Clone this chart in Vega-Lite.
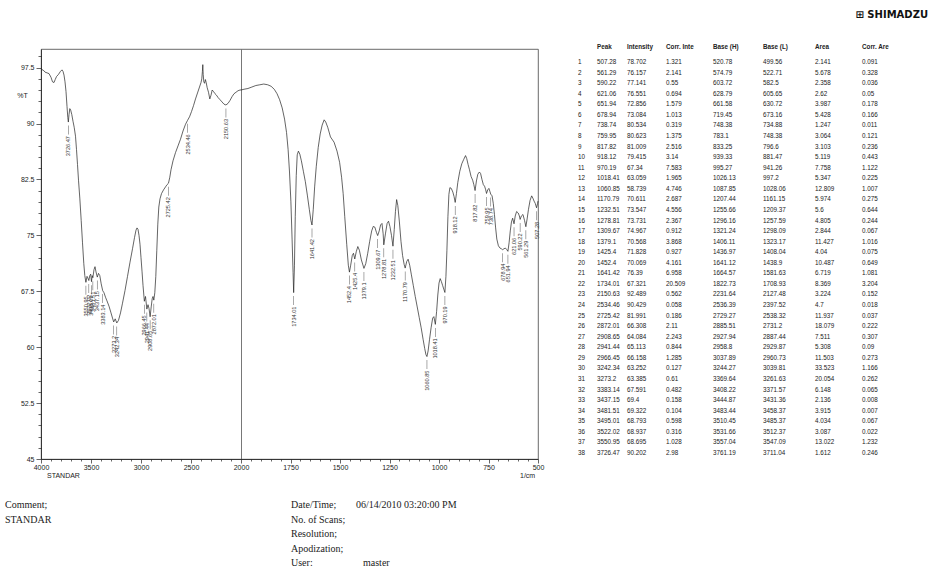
{
  "$schema": "https://vega.github.io/schema/vega-lite/v6.json",
  "width": 497,
  "height": 410,
  "autosize": {"type": "none"},
  "padding": {"left": 41, "top": 49, "right": 392, "bottom": 113},
  "background": "white",
  "config": {
    "view": {"stroke": "#444", "strokeWidth": 0.8},
    "axis": {"domainColor": "#222", "domainWidth": 0.8, "tickColor": "#222", "tickWidth": 0.7, "labelFont": "Liberation Sans", "labelFontSize": 7, "labelColor": "#222", "grid": false}
  },
  "datasets": {
    "spec": [
      {"w":4000,"t":97.2},{"w":3980,"t":97.2},{"w":3960,"t":96.9},{"w":3940,"t":96.8},{"w":3920,"t":96.7},{"w":3900,"t":96.2},{"w":3885,"t":95.6},{"w":3870,"t":95.5},{"w":3858,"t":95.9},{"w":3845,"t":96.3},{"w":3825,"t":96.6},{"w":3805,"t":97.0},{"w":3790,"t":97.2},{"w":3780,"t":97.0},{"w":3770,"t":96.5},{"w":3760,"t":95.6},{"w":3750,"t":94.3},{"w":3740,"t":92.3},{"w":3732,"t":90.8},{"w":3726.47,"t":90.2},{"w":3720,"t":91.2},{"w":3712,"t":92.0},{"w":3703,"t":91.8},{"w":3692,"t":91.2},{"w":3680,"t":90.3},{"w":3668,"t":89.5},{"w":3655,"t":88.3},{"w":3645,"t":86.5},{"w":3635,"t":84.5},{"w":3625,"t":82.4},{"w":3612,"t":80.0},{"w":3598,"t":77.0},{"w":3585,"t":74.0},{"w":3572,"t":71.2},{"w":3562,"t":69.6},{"w":3550.95,"t":68.7},{"w":3540,"t":69.5},{"w":3532,"t":69.3},{"w":3522.02,"t":68.94},{"w":3512,"t":69.6},{"w":3503,"t":69.8},{"w":3495.01,"t":68.79},{"w":3488,"t":69.6},{"w":3481.51,"t":69.32},{"w":3470,"t":70.4},{"w":3460,"t":70.8},{"w":3450,"t":70.1},{"w":3437.15,"t":69.4},{"w":3425,"t":69.9},{"w":3412,"t":69.6},{"w":3398,"t":68.5},{"w":3383.14,"t":67.59},{"w":3370,"t":67.3},{"w":3355,"t":66.7},{"w":3340,"t":66.2},{"w":3320,"t":65.5},{"w":3300,"t":64.6},{"w":3285,"t":63.9},{"w":3273.2,"t":63.39},{"w":3258,"t":63.8},{"w":3242.34,"t":63.25},{"w":3225,"t":63.6},{"w":3205,"t":64.6},{"w":3185,"t":65.9},{"w":3160,"t":67.6},{"w":3135,"t":69.5},{"w":3110,"t":71.4},{"w":3085,"t":73.2},{"w":3065,"t":74.7},{"w":3050,"t":75.7},{"w":3040,"t":76.0},{"w":3030,"t":75.8},{"w":3020,"t":75.0},{"w":3010,"t":73.8},{"w":3000,"t":72.0},{"w":2990,"t":70.2},{"w":2980,"t":68.3},{"w":2966.45,"t":66.16},{"w":2955,"t":66.8},{"w":2941.44,"t":65.11},{"w":2930,"t":65.7},{"w":2920,"t":65.2},{"w":2908.65,"t":64.08},{"w":2898,"t":65.4},{"w":2888,"t":66.5},{"w":2880,"t":66.8},{"w":2872.01,"t":66.31},{"w":2862,"t":67.3},{"w":2852,"t":69.5},{"w":2842,"t":73.0},{"w":2832,"t":76.5},{"w":2822,"t":78.8},{"w":2810,"t":79.9},{"w":2795,"t":80.6},{"w":2775,"t":81.1},{"w":2755,"t":81.5},{"w":2740,"t":81.8},{"w":2725.42,"t":81.99},{"w":2712,"t":82.8},{"w":2700,"t":83.8},{"w":2680,"t":85.0},{"w":2655,"t":86.1},{"w":2630,"t":87.0},{"w":2605,"t":87.9},{"w":2580,"t":89.0},{"w":2555,"t":89.9},{"w":2534.46,"t":90.43},{"w":2515,"t":90.9},{"w":2495,"t":91.6},{"w":2475,"t":92.4},{"w":2455,"t":93.3},{"w":2435,"t":94.1},{"w":2415,"t":94.9},{"w":2400,"t":95.5},{"w":2392,"t":96.0},{"w":2386,"t":97.0},{"w":2382,"t":97.9},{"w":2378,"t":96.6},{"w":2372,"t":95.6},{"w":2364,"t":95.4},{"w":2356,"t":95.9},{"w":2348,"t":95.5},{"w":2338,"t":94.8},{"w":2325,"t":94.2},{"w":2312,"t":93.3},{"w":2300,"t":93.8},{"w":2288,"t":94.5},{"w":2275,"t":94.3},{"w":2260,"t":94.0},{"w":2245,"t":93.8},{"w":2230,"t":93.5},{"w":2210,"t":93.2},{"w":2190,"t":92.9},{"w":2170,"t":92.6},{"w":2150.63,"t":92.49},{"w":2130,"t":92.7},{"w":2110,"t":93.1},{"w":2090,"t":93.6},{"w":2070,"t":94.0},{"w":2050,"t":94.2},{"w":2030,"t":94.4},{"w":2010,"t":94.5},{"w":2000,"t":94.5},
      {"w":1985,"t":94.6},{"w":1965,"t":94.7},{"w":1945,"t":94.9},{"w":1925,"t":95.1},{"w":1905,"t":95.2},{"w":1885,"t":95.3},{"w":1865,"t":95.2},{"w":1848,"t":95.0},{"w":1832,"t":94.6},{"w":1818,"t":94.0},{"w":1805,"t":93.2},{"w":1792,"t":92.1},{"w":1780,"t":90.6},{"w":1770,"t":88.8},{"w":1762,"t":86.5},{"w":1755,"t":83.5},{"w":1748,"t":79.5},{"w":1742,"t":74.5},{"w":1737,"t":70.0},{"w":1734.01,"t":67.32},{"w":1730,"t":71.0},{"w":1726,"t":77.5},{"w":1721,"t":83.0},{"w":1716,"t":85.8},{"w":1710,"t":86.3},{"w":1703,"t":85.9},{"w":1695,"t":85.0},{"w":1685,"t":83.6},{"w":1675,"t":82.2},{"w":1665,"t":80.4},{"w":1655,"t":78.5},{"w":1647,"t":77.0},{"w":1641.42,"t":76.39},{"w":1635,"t":78.5},{"w":1628,"t":81.5},{"w":1620,"t":84.2},{"w":1610,"t":86.8},{"w":1600,"t":88.6},{"w":1590,"t":89.8},{"w":1580,"t":90.5},{"w":1572,"t":90.2},{"w":1562,"t":89.5},{"w":1548,"t":88.2},{"w":1530,"t":87.5},{"w":1515,"t":86.3},{"w":1502,"t":84.8},{"w":1492,"t":82.8},{"w":1484,"t":80.6},{"w":1476,"t":77.5},{"w":1466,"t":73.8},{"w":1458,"t":71.0},{"w":1452.4,"t":70.07},{"w":1446,"t":71.0},{"w":1438,"t":72.3},{"w":1432,"t":72.6},{"w":1425.4,"t":71.83},{"w":1418,"t":72.8},{"w":1410,"t":73.5},{"w":1402,"t":73.0},{"w":1392,"t":71.7},{"w":1379.1,"t":70.57},{"w":1370,"t":71.2},{"w":1360,"t":72.6},{"w":1350,"t":74.2},{"w":1340,"t":75.6},{"w":1332,"t":76.2},{"w":1324,"t":76.1},{"w":1316,"t":75.4},{"w":1309.67,"t":74.97},{"w":1302,"t":75.6},{"w":1295,"t":76.4},{"w":1288,"t":76.6},{"w":1282,"t":75.2},{"w":1278.81,"t":73.73},{"w":1270,"t":75.3},{"w":1262,"t":76.6},{"w":1255,"t":76.9},{"w":1248,"t":76.2},{"w":1240,"t":75.0},{"w":1232.51,"t":73.55},{"w":1226,"t":75.8},{"w":1220,"t":78.2},{"w":1214,"t":79.8},{"w":1208,"t":79.0},{"w":1200,"t":76.8},{"w":1192,"t":74.2},{"w":1184,"t":72.3},{"w":1176,"t":71.1},{"w":1170.79,"t":70.61},{"w":1163,"t":71.5},{"w":1156,"t":71.8},{"w":1148,"t":71.0},{"w":1140,"t":69.8},{"w":1130,"t":68.3},{"w":1120,"t":66.8},{"w":1110,"t":65.4},{"w":1100,"t":64.0},{"w":1090,"t":62.6},{"w":1080,"t":61.0},{"w":1072,"t":59.8},{"w":1066,"t":59.0},{"w":1060.85,"t":58.74},{"w":1055,"t":59.5},{"w":1048,"t":61.0},{"w":1040,"t":62.6},{"w":1032,"t":63.9},{"w":1026,"t":64.1},{"w":1018.41,"t":63.06},{"w":1012,"t":64.8},{"w":1006,"t":67.0},{"w":1000,"t":68.6},{"w":994,"t":69.2},{"w":988,"t":68.8},{"w":982,"t":68.3},{"w":976,"t":67.8},{"w":970.19,"t":67.34},{"w":965,"t":69.5},{"w":960,"t":73.0},{"w":955,"t":77.5},{"w":950,"t":80.5},{"w":945,"t":81.4},{"w":938,"t":81.3},{"w":930,"t":80.8},{"w":924,"t":80.2},{"w":918.12,"t":79.42},{"w":912,"t":80.6},{"w":905,"t":82.1},{"w":895,"t":83.6},{"w":885,"t":84.6},{"w":875,"t":85.2},{"w":866,"t":85.7},{"w":860,"t":85.3},{"w":853,"t":84.5},{"w":846,"t":83.8},{"w":838,"t":82.9},{"w":830,"t":82.4},{"w":824,"t":81.8},{"w":817.82,"t":81.01},{"w":811,"t":82.3},{"w":804,"t":83.2},{"w":796,"t":83.5},{"w":790,"t":83.3},{"w":783,"t":82.5},{"w":776,"t":81.8},{"w":770,"t":81.6},{"w":765,"t":81.2},{"w":759.95,"t":80.62},{"w":754,"t":81.1},{"w":748,"t":81.3},{"w":743,"t":80.9},{"w":738.74,"t":80.53},{"w":732,"t":80.3},{"w":726,"t":79.3},{"w":720,"t":77.8},{"w":714,"t":76.0},{"w":708,"t":74.5},{"w":700,"t":73.6},{"w":692,"t":73.3},{"w":685,"t":73.2},{"w":678.94,"t":73.08},{"w":672,"t":73.2},{"w":665,"t":73.3},{"w":658,"t":73.1},{"w":651.94,"t":72.86},{"w":646,"t":74.0},{"w":640,"t":75.6},{"w":634,"t":76.8},{"w":628,"t":77.3},{"w":621.06,"t":76.55},{"w":615,"t":77.6},{"w":608,"t":78.2},{"w":600,"t":78.0},{"w":594,"t":77.6},{"w":590.22,"t":77.14},{"w":584,"t":77.6},{"w":576,"t":77.8},{"w":568,"t":77.0},{"w":561.29,"t":76.16},{"w":555,"t":77.2},{"w":548,"t":78.5},{"w":540,"t":79.7},{"w":532,"t":80.3},{"w":526,"t":80.0},{"w":520,"t":79.6},{"w":514,"t":79.3},{"w":507.28,"t":78.7},{"w":502,"t":79.3},{"w":500,"t":79.6}
    ],
    "pk": [
      {"n":1,"Peak":507.28,"Intensity":78.702,"CorrI":1.321,"BaseH":520.78,"BaseL":499.56,"Area":2.141,"CorrA":0.091},
      {"n":2,"Peak":561.29,"Intensity":76.157,"CorrI":2.141,"BaseH":574.79,"BaseL":522.71,"Area":5.678,"CorrA":0.328},
      {"n":3,"Peak":590.22,"Intensity":77.141,"CorrI":0.55,"BaseH":603.72,"BaseL":582.5,"Area":2.358,"CorrA":0.036},
      {"n":4,"Peak":621.06,"Intensity":76.551,"CorrI":0.694,"BaseH":628.79,"BaseL":605.65,"Area":2.62,"CorrA":0.05},
      {"n":5,"Peak":651.94,"Intensity":72.856,"CorrI":1.579,"BaseH":661.58,"BaseL":630.72,"Area":3.987,"CorrA":0.178},
      {"n":6,"Peak":678.94,"Intensity":73.084,"CorrI":1.013,"BaseH":719.45,"BaseL":673.16,"Area":5.428,"CorrA":0.166},
      {"n":7,"Peak":738.74,"Intensity":80.534,"CorrI":0.319,"BaseH":748.38,"BaseL":734.88,"Area":1.247,"CorrA":0.011},
      {"n":8,"Peak":759.95,"Intensity":80.623,"CorrI":1.375,"BaseH":783.1,"BaseL":748.38,"Area":3.064,"CorrA":0.121},
      {"n":9,"Peak":817.82,"Intensity":81.009,"CorrI":2.516,"BaseH":833.25,"BaseL":796.6,"Area":3.103,"CorrA":0.236},
      {"n":10,"Peak":918.12,"Intensity":79.415,"CorrI":3.14,"BaseH":939.33,"BaseL":881.47,"Area":5.119,"CorrA":0.443},
      {"n":11,"Peak":970.19,"Intensity":67.34,"CorrI":7.583,"BaseH":995.27,"BaseL":941.26,"Area":7.758,"CorrA":1.122},
      {"n":12,"Peak":1018.41,"Intensity":63.059,"CorrI":1.965,"BaseH":1026.13,"BaseL":997.2,"Area":5.347,"CorrA":0.225},
      {"n":13,"Peak":1060.85,"Intensity":58.739,"CorrI":4.746,"BaseH":1087.85,"BaseL":1028.06,"Area":12.809,"CorrA":1.007},
      {"n":14,"Peak":1170.79,"Intensity":70.611,"CorrI":2.687,"BaseH":1207.44,"BaseL":1161.15,"Area":5.974,"CorrA":0.275},
      {"n":15,"Peak":1232.51,"Intensity":73.547,"CorrI":4.556,"BaseH":1255.66,"BaseL":1209.37,"Area":5.6,"CorrA":0.644},
      {"n":16,"Peak":1278.81,"Intensity":73.731,"CorrI":2.367,"BaseH":1296.16,"BaseL":1257.59,"Area":4.805,"CorrA":0.244},
      {"n":17,"Peak":1309.67,"Intensity":74.967,"CorrI":0.912,"BaseH":1321.24,"BaseL":1298.09,"Area":2.844,"CorrA":0.067},
      {"n":18,"Peak":1379.1,"Intensity":70.568,"CorrI":3.868,"BaseH":1406.11,"BaseL":1323.17,"Area":11.427,"CorrA":1.016},
      {"n":19,"Peak":1425.4,"Intensity":71.828,"CorrI":0.927,"BaseH":1436.97,"BaseL":1408.04,"Area":4.04,"CorrA":0.075},
      {"n":20,"Peak":1452.4,"Intensity":70.069,"CorrI":4.161,"BaseH":1641.12,"BaseL":1438.9,"Area":10.487,"CorrA":0.649},
      {"n":21,"Peak":1641.42,"Intensity":76.39,"CorrI":6.958,"BaseH":1664.57,"BaseL":1581.63,"Area":6.719,"CorrA":1.081},
      {"n":22,"Peak":1734.01,"Intensity":67.321,"CorrI":20.509,"BaseH":1822.73,"BaseL":1708.93,"Area":8.369,"CorrA":3.204},
      {"n":23,"Peak":2150.63,"Intensity":92.489,"CorrI":0.562,"BaseH":2231.64,"BaseL":2127.48,"Area":3.224,"CorrA":0.152},
      {"n":24,"Peak":2534.46,"Intensity":90.429,"CorrI":0.058,"BaseH":2536.39,"BaseL":2397.52,"Area":4.7,"CorrA":0.018},
      {"n":25,"Peak":2725.42,"Intensity":81.991,"CorrI":0.186,"BaseH":2729.27,"BaseL":2538.32,"Area":11.937,"CorrA":0.037},
      {"n":26,"Peak":2872.01,"Intensity":66.308,"CorrI":2.11,"BaseH":2885.51,"BaseL":2731.2,"Area":18.079,"CorrA":0.222},
      {"n":27,"Peak":2908.65,"Intensity":64.084,"CorrI":2.243,"BaseH":2927.94,"BaseL":2887.44,"Area":7.511,"CorrA":0.307},
      {"n":28,"Peak":2941.44,"Intensity":65.113,"CorrI":0.844,"BaseH":2958.8,"BaseL":2929.87,"Area":5.308,"CorrA":0.09},
      {"n":29,"Peak":2966.45,"Intensity":66.158,"CorrI":1.285,"BaseH":3037.89,"BaseL":2960.73,"Area":11.503,"CorrA":0.273},
      {"n":30,"Peak":3242.34,"Intensity":63.252,"CorrI":0.127,"BaseH":3244.27,"BaseL":3039.81,"Area":33.523,"CorrA":1.166},
      {"n":31,"Peak":3273.2,"Intensity":63.385,"CorrI":0.61,"BaseH":3369.64,"BaseL":3261.63,"Area":20.054,"CorrA":0.262},
      {"n":32,"Peak":3383.14,"Intensity":67.591,"CorrI":0.482,"BaseH":3408.22,"BaseL":3371.57,"Area":6.148,"CorrA":0.065},
      {"n":33,"Peak":3437.15,"Intensity":69.4,"CorrI":0.158,"BaseH":3444.87,"BaseL":3431.36,"Area":2.136,"CorrA":0.008},
      {"n":34,"Peak":3481.51,"Intensity":69.322,"CorrI":0.104,"BaseH":3483.44,"BaseL":3458.37,"Area":3.915,"CorrA":0.007},
      {"n":35,"Peak":3495.01,"Intensity":68.793,"CorrI":0.598,"BaseH":3510.45,"BaseL":3485.37,"Area":4.034,"CorrA":0.067},
      {"n":36,"Peak":3522.02,"Intensity":68.937,"CorrI":0.316,"BaseH":3531.66,"BaseL":3512.37,"Area":3.087,"CorrA":0.022},
      {"n":37,"Peak":3550.95,"Intensity":68.695,"CorrI":1.028,"BaseH":3557.04,"BaseL":3547.09,"Area":13.022,"CorrA":1.232},
      {"n":38,"Peak":3726.47,"Intensity":90.202,"CorrI":2.98,"BaseH":3761.19,"BaseL":3711.04,"Area":1.612,"CorrA":0.246}
    ],
    "cols": [
      {"key":"n","ci":0,"r":0,"h":""},
      {"key":"Peak","ci":1,"r":0,"h":"Peak"},
      {"key":"Intensity","ci":2,"r":0,"h":"Intensity"},
      {"key":"CorrI","ci":3,"r":0,"h":"Corr. Inte"},
      {"key":"BaseH","ci":4,"r":0,"h":"Base (H)"},
      {"key":"BaseL","ci":5,"r":0,"h":"Base (L)"},
      {"key":"Area","ci":6,"r":0,"h":"Area"},
      {"key":"CorrA","ci":7,"r":0,"h":"Corr. Are"}
    ],
    "logo": [{"ci":8,"r":-1,"t":"⊞ SHIMADZU"}],
    "foot": [
      {"c":0,"l":0,"t":"Comment;"},{"c":0,"l":1,"t":"STANDAR"},
      {"c":2,"l":0,"t":"Date/Time;"},{"c":3,"l":0,"t":"06/14/2010 03:20:00 PM"},
      {"c":2,"l":1,"t":"No. of Scans;"},{"c":2,"l":2,"t":"Resolution;"},
      {"c":2,"l":3,"t":"Apodization;"},{"c":2,"l":4,"t":"User:"},{"c":4,"l":4,"t":"master"}
    ],
    "sub": [{"c":1,"l":-1,"t":"STANDAR"},{"c":5,"l":-1,"t":"1/cm"}]
  },
  "layer": [
    {
      "data": {"name": "spec"},
      "mark": {"type": "line", "color": "#222", "strokeWidth": 0.7},
      "encoding": {
        "x": {"field": "w", "type": "quantitative",
          "scale": {"domain": [4000, 2000, 500], "range": [0, 200, 497], "zero": false, "nice": false},
          "axis": {
            "title": null,
            "values": [4000,3900,3800,3700,3600,3500,3400,3300,3200,3100,3000,2900,2800,2700,2600,2500,2400,2300,2200,2100,2000,1950,1900,1850,1800,1750,1700,1650,1600,1550,1500,1450,1400,1350,1300,1250,1200,1150,1100,1050,1000,950,900,850,800,750,700,650,600,550,500],
            "format": "d",
            "labelExpr": "(datum.value >= 2000 ? datum.value % 500 == 0 : datum.value % 250 == 0) ? datum.label : ''",
            "tickSize": {"condition": {"test": "(datum.value >= 2000 ? datum.value % 500 == 0 : datum.value % 250 == 0)", "value": 4}, "value": 2},
            "labelOverlap": false, "labelFlush": false, "labelPadding": 0,
            "grid": true, "gridColor": "#555", "gridWidth": 0.8,
            "gridOpacity": {"condition": {"test": "datum.value == 2000", "value": 1}, "value": 0}
          }
        },
        "y": {"field": "t", "type": "quantitative",
          "scale": {"domain": [45, 100], "zero": false, "nice": false},
          "axis": {
            "title": "%T", "titleAngle": 0, "titleX": -19, "titleY": 46, "titleAlign": "center", "titleBaseline": "middle",
            "titleFont": "Liberation Sans", "titleFontSize": 7, "titleFontWeight": "normal", "titleColor": "#222",
            "values": [45,46.5,48,49.5,51,52.5,54,55.5,57,58.5,60,61.5,63,64.5,66,67.5,69,70.5,72,73.5,75,76.5,78,79.5,81,82.5,84,85.5,87,88.5,90,91.5,93,94.5,96,97.5,99],
            "labelExpr": "datum.value % 7.5 == 0 ? (datum.value % 1 == 0 ? format(datum.value, 'd') : format(datum.value, '.1f')) : ''",
            "tickSize": {"condition": {"test": "datum.value % 7.5 == 0", "value": 5}, "value": 3},
            "labelOverlap": false, "labelFlush": false, "labelPadding": 2
          }
        }
      }
    },
    {
      "data": {"name": "pk"},
      "mark": {"type": "tick", "orient": "vertical", "size": 9, "thickness": 0.6, "yOffset": 8, "color": "#333"},
      "encoding": {
        "x": {"field": "Peak", "type": "quantitative", "scale": {"domain": [4000, 2000, 500], "range": [0, 200, 497], "zero": false, "nice": false}, "axis": null},
        "y": {"field": "Intensity", "type": "quantitative", "scale": {"domain": [45, 100], "zero": false, "nice": false}, "axis": null}
      }
    },
    {
      "data": {"name": "pk"},
      "mark": {"type": "text", "angle": 270, "align": "right", "baseline": "middle", "fontSize": 5.6, "yOffset": 14, "font": "Liberation Sans", "color": "#333"},
      "encoding": {
        "x": {"field": "Peak", "type": "quantitative", "scale": {"domain": [4000, 2000, 500], "range": [0, 200, 497], "zero": false, "nice": false}, "axis": null},
        "y": {"field": "Intensity", "type": "quantitative", "scale": {"domain": [45, 100], "zero": false, "nice": false}, "axis": null},
        "text": {"field": "Peak", "type": "nominal"}
      }
    },
    {
      "data": {"name": "pk"},
      "transform": [
        {"fold": ["n", "Peak", "Intensity", "CorrI", "BaseH", "BaseL", "Area", "CorrA"], "as": ["key", "val"]},
        {"lookup": "key", "from": {"data": {"name": "cols"}, "key": "key", "fields": ["ci"]}}
      ],
      "mark": {"type": "text", "align": "left", "baseline": "middle", "fontSize": 6.3, "font": "Liberation Sans", "color": "#222"},
      "encoding": {
        "x": {"field": "ci", "type": "quantitative", "scale": {"domain": [0,1,2,3,4,5,6,7,8], "range": [537,556,586,625,672,722,774,821,887], "zero": false, "nice": false}, "axis": null},
        "y": {"field": "n", "type": "quantitative", "scale": {"domain": [-1, 0, 1, 38], "range": [-34, -2, 13, 404], "zero": false, "nice": false}, "axis": null},
        "text": {"field": "val", "type": "nominal"}
      }
    },
    {
      "data": {"name": "cols"},
      "mark": {"type": "text", "align": "left", "baseline": "middle", "fontSize": 6.3, "fontWeight": "bold", "font": "Liberation Sans", "color": "#222"},
      "encoding": {
        "x": {"field": "ci", "type": "quantitative", "scale": {"domain": [0,1,2,3,4,5,6,7,8], "range": [537,556,586,625,672,722,774,821,887], "zero": false, "nice": false}, "axis": null},
        "y": {"field": "r", "type": "quantitative", "scale": {"domain": [-1, 0, 1, 38], "range": [-34, -2, 13, 404], "zero": false, "nice": false}, "axis": null},
        "text": {"field": "h", "type": "nominal"}
      }
    },
    {
      "data": {"name": "logo"},
      "mark": {"type": "text", "align": "right", "baseline": "middle", "fontSize": 10, "fontWeight": "bold", "font": "DejaVu Sans", "color": "#111"},
      "encoding": {
        "x": {"field": "ci", "type": "quantitative", "scale": {"domain": [0,1,2,3,4,5,6,7,8], "range": [537,556,586,625,672,722,774,821,887], "zero": false, "nice": false}, "axis": null},
        "y": {"field": "r", "type": "quantitative", "scale": {"domain": [-1, 0, 1, 38], "range": [-34, -2, 13, 404], "zero": false, "nice": false}, "axis": null},
        "text": {"field": "t", "type": "nominal"}
      }
    },
    {
      "data": {"name": "foot"},
      "mark": {"type": "text", "align": "left", "baseline": "middle", "fontSize": 10, "font": "Liberation Serif", "color": "#222"},
      "encoding": {
        "x": {"field": "c", "type": "quantitative", "scale": {"domain": [0,1,2,3,4,5], "range": [-36,6,250,315,322,479], "zero": false, "nice": false}, "axis": null},
        "y": {"field": "l", "type": "quantitative", "scale": {"domain": [-1, 0, 4], "range": [427, 456, 514], "zero": false, "nice": false}, "axis": null},
        "text": {"field": "t", "type": "nominal"}
      }
    },
    {
      "data": {"name": "sub"},
      "mark": {"type": "text", "align": "left", "baseline": "middle", "fontSize": 7, "font": "Liberation Sans", "color": "#222"},
      "encoding": {
        "x": {"field": "c", "type": "quantitative", "scale": {"domain": [0,1,2,3,4,5], "range": [-36,6,250,315,322,479], "zero": false, "nice": false}, "axis": null},
        "y": {"field": "l", "type": "quantitative", "scale": {"domain": [-1, 0, 4], "range": [427, 456, 514], "zero": false, "nice": false}, "axis": null},
        "text": {"field": "t", "type": "nominal"}
      }
    }
  ],
  "resolve": {"scale": {"x": "independent", "y": "independent"}}
}
